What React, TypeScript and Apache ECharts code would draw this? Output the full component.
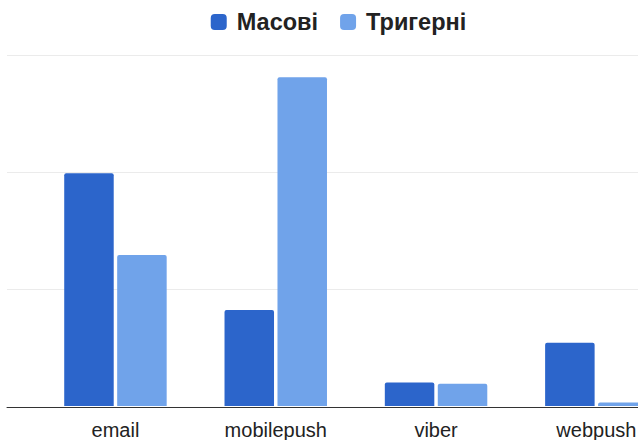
import React, { useEffect, useRef } from "react";
import * as echarts from "echarts";

const categories = ["email", "mobilepush", "viber", "webpush"];
const seriesNames = ["Масові", "Тригерні"];
const masovi = [19.9, 8.2, 2.0, 5.4];
const tryherni = [12.9, 28.1, 1.9, 0.3];
const colors = ["#2c65cb", "#70a3ea"];

export default function App() {
  const ref = useRef<HTMLDivElement>(null);
  useEffect(() => {
    if (!ref.current) return;
    const chart = echarts.init(ref.current, null, { renderer: "svg" });
    chart.setOption({
      animation: false,
      color: colors,
      legend: {
        top: 5,
        left: "center",
        itemWidth: 16,
        itemHeight: 16,
        itemGap: 22,
        icon: "roundRect",
        textStyle: {
          fontFamily: "Liberation Sans, Arial, sans-serif",
          fontWeight: "bold",
          fontSize: 23.5,
          color: "#222",
          padding: [0, 0, 0, 5],
        },
        data: seriesNames,
      },
      grid: [
        { left: 7, right: 0, top: 55, bottom: 33 },
        { left: 35.3, right: 0.5, top: 55, bottom: 33 },
      ],
      xAxis: [
        {
          type: "category",
          gridIndex: 0,
          data: categories,
          axisLine: { show: true, lineStyle: { color: "#333", width: 1 } },
          axisTick: { show: false },
          axisLabel: { show: false },
          splitLine: { show: false },
        },
        {
          type: "category",
          gridIndex: 1,
          data: categories,
          axisLine: { show: false },
          axisTick: { show: false },
          axisLabel: {
            margin: 14,
            fontFamily: "Liberation Sans, Arial, sans-serif",
            fontSize: 20,
            color: "#222",
          },
        },
      ],
      yAxis: [
        {
          type: "value",
          gridIndex: 0,
          min: 0,
          max: 30,
          interval: 10,
          axisLine: { show: false },
          axisTick: { show: false },
          axisLabel: { show: false },
          splitLine: { show: true, lineStyle: { color: "#ebebeb", width: 1 } },
        },
        {
          type: "value",
          gridIndex: 1,
          min: 0,
          max: 30,
          interval: 10,
          axisLine: { show: false },
          axisTick: { show: false },
          axisLabel: { show: false },
          splitLine: { show: false },
        },
      ],
      series: [
        {
          name: seriesNames[0],
          type: "bar",
          xAxisIndex: 1,
          yAxisIndex: 1,
          data: masovi,
          barWidth: 49.5,
          barGap: "7%",
          itemStyle: { borderRadius: [2, 2, 0, 0] },
        },
        {
          name: seriesNames[1],
          type: "bar",
          xAxisIndex: 1,
          yAxisIndex: 1,
          data: tryherni,
          barWidth: 49.5,
          barGap: "7%",
          itemStyle: { borderRadius: [2, 2, 0, 0] },
        },
      ],
    });
    return () => chart.dispose();
  }, []);
  return (
    <div
      style={{
        position: "fixed",
        left: 0,
        top: 0,
        width: 638,
        height: 440,
        overflow: "hidden",
        background: "#fff",
      }}
    >
      <div ref={ref} style={{ width: 677, height: 440 }} />
    </div>
  );
}
